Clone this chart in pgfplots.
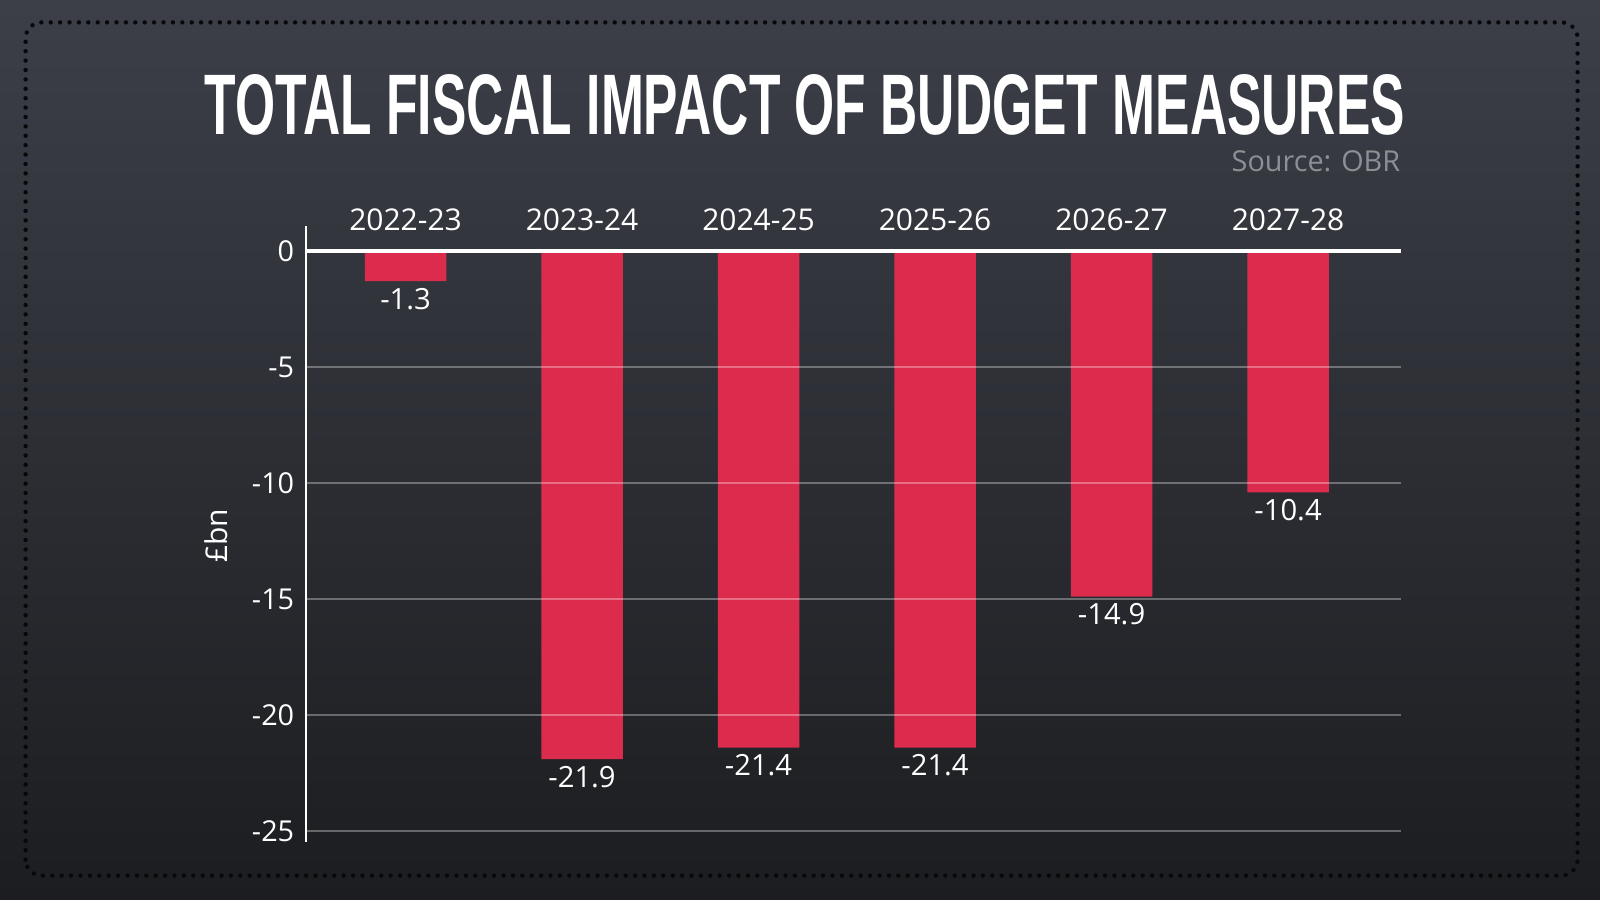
\documentclass[border=0pt]{standalone}
\usepackage{pgfplots}
\pgfplotsset{compat=1.18}
\usepackage{fontspec}
\setmainfont{Open Sans}
\newfontfamily\titlefont{Liberation Sans}
\definecolor{bgtop}{HTML}{3C3F48}
\definecolor{bgbot}{HTML}{1C1D20}
\definecolor{barred}{HTML}{DC2C4E}
\definecolor{srcgray}{HTML}{8C8F94}
\definecolor{dotc}{HTML}{08080A}
\begin{document}
\begin{tikzpicture}
\shade[top color=bgtop, bottom color=bgbot] (0,0) rectangle (400pt,225pt);
\useasboundingbox (0,0) rectangle (400pt,225pt);
\draw[dotc, line width=1.1pt, line cap=round, dash pattern=on 0pt off 2.35pt, rounded corners=4pt]
  (6.4pt,6.1pt) rectangle (394.4pt,219.4pt);
\node[anchor=base west, inner sep=0pt, text=white] at (51pt,191.3pt)
  {\resizebox{300pt}{15pt}{\titlefont\bfseries TOTAL FISCAL IMPACT OF BUDGET MEASURES}};
\node[anchor=base east, inner sep=0pt, text=srcgray, font=\fontsize{7.2pt}{8pt}\selectfont] at (350.25pt,182.15pt) {Source: OBR};
\node[rotate=90, inner sep=0pt, text=white, font=\fontsize{7.5pt}{9pt}\selectfont] at (54pt,91.1pt) {£bn};
\begin{axis}[
  at={(76.5pt,14.5pt)}, anchor=south west,
  scale only axis, width=273.75pt, height=153.875pt,
  xmin=-0.564, xmax=5.64, ymin=-25.47, ymax=1.056,
  axis y line*=left, axis x line*=top,
  x axis line style={draw=none},
  y axis line style={-, white, line width=0.55pt},
  ybar, bar width=0.462, bar shift=0pt,
  xtick={0,1,2,3,4,5},
  xticklabels={2022-23,2023-24,2024-25,2025-26,2026-27,2027-28},
  xticklabel style={anchor=base, inner sep=0pt, yshift=-1.03pt, text=white, font=\fontsize{7.5pt}{9pt}\selectfont},
  ytick={-25,-20,-15,-10,-5},
  yticklabels={-25,-20,-15,-10,-5},
  extra y ticks={0}, extra y tick labels={0},
  extra y tick style={grid style={white, opacity=1, line width=0.8pt}},
  yticklabel style={anchor=east, inner sep=0pt, xshift=-2.75pt, text=white, font=\fontsize{7.2pt}{9pt}\selectfont},
  major tick length=0pt,
  ymajorgrids, grid style={white, opacity=0.32, line width=0.5pt},
  axis on top,
  nodes near coords, point meta=explicit symbolic,
  every node near coord/.append style={anchor=north, inner sep=0pt, yshift=-1.5pt, text=white, font=\fontsize{7.3pt}{9pt}\selectfont},
]
\addplot[fill=barred, draw=none] coordinates {
  (0,-1.3) [-1.3]
  (1,-21.9) [-21.9]
  (2,-21.4) [-21.4]
  (3,-21.4) [-21.4]
  (4,-14.9) [-14.9]
  (5,-10.4) [-10.4]
};
\end{axis}
\end{tikzpicture}
\end{document}
